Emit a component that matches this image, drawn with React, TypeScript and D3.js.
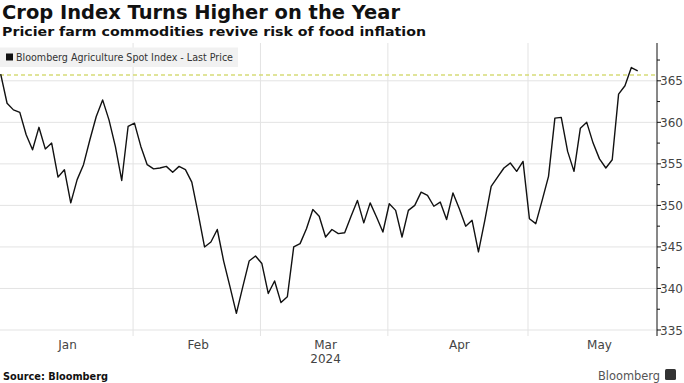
import React from "react";
import * as d3 from "d3";

const title = "Crop Index Turns Higher on the Year";
const subtitle = "Pricier farm commodities revive risk of food inflation";
const seriesName = "Bloomberg Agriculture Spot Index - Last Price";
const sourceText = "Source: Bloomberg";
const yearLabel = "2024";

// Daily closes, one per trading day from Jan 2 2024 to May 24 2024
const values: number[] = [
  365.8, 362.3, 361.5, 361.2, 358.5, 356.7, 359.4, 356.8, 357.5, 353.4,
  354.3, 350.3, 353.1, 354.9, 357.9, 360.7, 362.7, 360.3, 357.1, 353.0,
  359.5, 359.9, 357.1, 354.9, 354.4, 354.5, 354.7, 354.0, 354.7, 354.3,
  352.8, 349.0, 345.0, 345.6, 347.1, 343.3, 340.2, 337.0, 340.2, 343.3,
  343.9, 343.0, 339.4, 340.9, 338.3, 339.0, 345.0, 345.4, 347.2, 349.5,
  348.7, 346.2, 347.1, 346.6, 346.7, 348.7, 350.6, 347.9, 350.3, 348.6,
  346.8, 350.2, 349.4, 346.2, 349.4, 350.0, 351.6, 351.2, 349.9, 350.4,
  348.3, 351.5, 349.6, 347.5, 348.2, 344.4, 348.2, 352.3, 353.4, 354.5,
  355.1, 354.1, 355.3, 348.4, 347.8, 350.6, 353.5, 360.5, 360.6, 356.5,
  354.1, 359.3, 360.0, 357.5, 355.6, 354.5, 355.5, 363.4, 364.4, 366.6,
  366.2,
];

const months = ["Jan", "Feb", "Mar", "Apr", "May"];
const monthStart = [0, 21, 41, 61, 83];
const monthEnd = [21, 41, 61, 83, 105];
const yearStartLevel = 365.7;
const yTicks = [335, 340, 345, 350, 355, 360, 365];
const yMinorTicks = [337.5, 342.5, 347.5, 352.5, 357.5, 362.5, 367.5];

const W = 684;
const H = 383;
const plotTop = 43;
const plotBottom = 336;
const axisX = 657;

export default function App() {
  const x = d3.scaleLinear().domain([0, 100]).range([0.7, 637.7]);
  const y = d3.scaleLinear().domain([335, 365]).range([330, 80.8]);
  const line = d3
    .line<number>()
    .x((_, i) => x(i))
    .y((d) => y(d));

  const font = "'DejaVu Sans', Verdana, sans-serif";

  return (
    <svg
      width={W}
      height={H}
      style={{ position: "absolute", left: 0, top: 0, background: "#fff" }}
      fontFamily={font}
    >
      <rect x={0} y={0} width={W} height={H} fill="#fff" />
      {/* gridlines */}
      {yTicks.map((t) => (
        <line
          key={"hg" + t}
          x1={0}
          x2={axisX}
          y1={y(t)}
          y2={y(t)}
          stroke="#e3e3e3"
          strokeWidth={1}
        />
      ))}
      {monthStart.slice(1).map((m) => (
        <line
          key={"vg" + m}
          x1={x(m - 0.22)}
          x2={x(m - 0.22)}
          y1={plotTop}
          y2={plotBottom}
          stroke="#e3e3e3"
          strokeWidth={1}
        />
      ))}

      {/* legend */}
      <rect x={0} y={47.5} width={238} height={19.5} fill="#f1f1f1" />
      <rect x={6} y={53.5} width={7} height={7} fill="#111" />
      <text
        x={16}
        y={61}
        fontSize={10.5}
        fill="#333"
        textLength={217}
        lengthAdjust="spacingAndGlyphs"
      >
        {seriesName}
      </text>

      {/* year start reference */}
      <line
        x1={0}
        x2={axisX}
        y1={y(yearStartLevel)}
        y2={y(yearStartLevel)}
        stroke="#d6dc78"
        strokeWidth={1.5}
        strokeDasharray="4,3"
      />

      {/* series */}
      <path
        d={line(values) || ""}
        fill="none"
        stroke="#111"
        strokeWidth={1.4}
        strokeLinejoin="round"
      />

      {/* right axis */}
      <line x1={axisX} x2={axisX} y1={plotTop} y2={plotBottom} stroke="#111" strokeWidth={1} />
      {yTicks.map((t) => (
        <g key={"yt" + t}>
          <line x1={axisX} x2={axisX + 4} y1={y(t)} y2={y(t)} stroke="#111" />
          <text x={axisX + 3} y={y(t) + 4.5} fontSize={12} fill="#444">
            {t}
          </text>
        </g>
      ))}
      {yMinorTicks.map((t) => (
        <line key={"ym" + t} x1={axisX} x2={axisX + 3} y1={y(t)} y2={y(t)} stroke="#111" />
      ))}

      {/* x labels */}
      {months.map((m, i) => (
        <text
          key={m}
          x={x((monthStart[i] + monthEnd[i]) / 2)}
          y={349}
          fontSize={12}
          fill="#444"
          textAnchor="middle"
        >
          {m}
        </text>
      ))}
      <text
        x={x((monthStart[2] + monthEnd[2]) / 2)}
        y={363}
        fontSize={12}
        fill="#444"
        textAnchor="middle"
      >
        {yearLabel}
      </text>

      {/* titles */}
      <text
        x={2}
        y={18.5}
        fontSize={19}
        fontWeight="bold"
        fill="#111"
        textLength={398}
        lengthAdjust="spacingAndGlyphs"
      >
        {title}
      </text>
      <text
        x={2}
        y={36}
        fontSize={13}
        fontWeight="bold"
        fill="#111"
        textLength={424}
        lengthAdjust="spacingAndGlyphs"
      >
        {subtitle}
      </text>

      {/* footer */}
      <text
        x={3}
        y={380}
        fontSize={11}
        fontWeight="bold"
        fill="#111"
        textLength={105}
        lengthAdjust="spacingAndGlyphs"
      >
        {sourceText}
      </text>
      <text
        x={598}
        y={380}
        fontSize={12}
        fill="#555"
        textLength={62}
        lengthAdjust="spacingAndGlyphs"
      >
        Bloomberg
      </text>
      <rect x={665} y={369} width={11} height={11} rx={1.5} fill="#333" />
    </svg>
  );
}
